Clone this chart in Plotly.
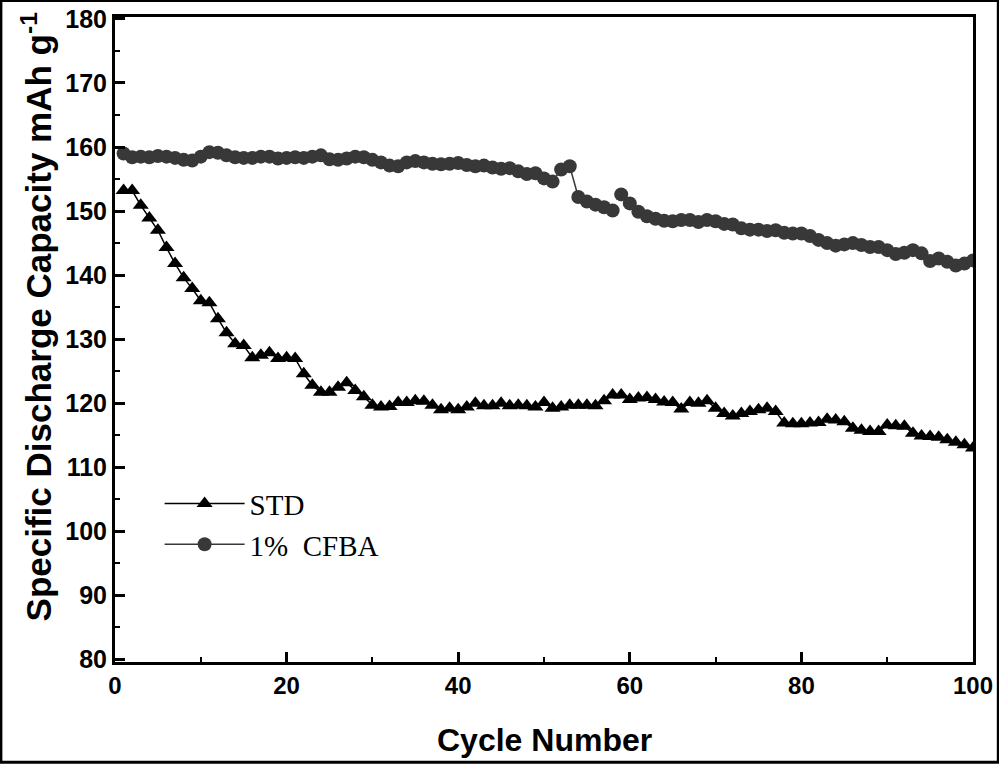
import plotly.graph_objects as go

cycles = list(range(1, 101))

std = [153.2, 153.2, 150.9, 148.9, 147.0, 144.3, 141.8, 139.6, 137.9, 136.0,
       135.7, 133.2, 131.0, 129.3, 129.0, 127.1, 127.5, 127.9, 127.0, 127.1,
       127.0, 124.6, 122.8, 121.7, 121.7, 122.5, 123.2, 122.0, 121.0, 119.7,
       119.4, 119.5, 120.1, 120.1, 120.4, 120.3, 119.7, 119.0, 119.2, 119.0,
       119.4, 120.0, 119.6, 119.6, 120.0, 119.6, 119.7, 119.6, 119.4, 120.1,
       119.2, 119.4, 119.7, 119.7, 119.7, 119.6, 120.4, 121.3, 121.3, 120.6,
       120.8, 120.9, 120.6, 120.2, 120.1, 119.1, 120.1, 120.0, 120.4, 119.2,
       118.4, 118.0, 118.4, 118.7, 119.0, 119.2, 118.7, 116.9, 116.8, 116.8,
       116.9, 117.0, 117.5, 117.4, 117.1, 116.1, 115.8, 115.6, 115.6, 116.6,
       116.5, 116.4, 115.3, 114.9, 114.8, 114.7, 114.3, 113.9, 113.5, 113.0]

cfba = [159.0, 158.4, 158.5, 158.4, 158.6, 158.5, 158.3, 158.0, 157.9, 158.5,
        159.2, 159.1, 158.7, 158.4, 158.3, 158.3, 158.5, 158.5, 158.2, 158.3,
        158.4, 158.3, 158.5, 158.7, 158.1, 158.0, 158.2, 158.5, 158.4, 158.0,
        157.6, 157.1, 157.0, 157.6, 157.8, 157.6, 157.4, 157.3, 157.4, 157.5,
        157.2, 157.0, 157.1, 156.8, 156.6, 156.7, 156.2, 155.8, 155.9, 155.1,
        154.6, 156.5, 157.0, 152.2, 151.5, 151.0, 150.6, 150.1, 152.6, 151.2,
        149.9, 149.2, 148.8, 148.5, 148.4, 148.6, 148.6, 148.3, 148.6, 148.4,
        148.0, 147.9, 147.3, 147.1, 147.1, 146.9, 147.0, 146.6, 146.5, 146.5,
        146.1, 145.5, 145.0, 144.6, 144.8, 145.0, 144.7, 144.4, 144.4, 143.9,
        143.3, 143.5, 143.9, 143.4, 142.2, 142.6, 142.1, 141.5, 141.8, 142.3]

cfba_break = 58  # line is interrupted after this cycle

x_ticks = [0, 20, 40, 60, 80, 100]
y_ticks = [80, 90, 100, 110, 120, 130, 140, 150, 160, 170, 180]

fig = go.Figure()

fig.add_trace(go.Scatter(
    x=cycles, y=std, mode="lines+markers", name="STD",
    line=dict(color="#000000", width=1.5),
    marker=dict(symbol="triangle-up", size=14, color="#000000"),
))
fig.add_trace(go.Scatter(
    x=cycles[:cfba_break], y=cfba[:cfba_break], mode="lines+markers",
    name="1%  CFBA", legendgroup="cfba",
    line=dict(color="#383838", width=1.5),
    marker=dict(symbol="circle", size=14, color="#383838"),
))
fig.add_trace(go.Scatter(
    x=cycles[cfba_break:], y=cfba[cfba_break:], mode="lines+markers",
    name="1%  CFBA", legendgroup="cfba", showlegend=False,
    line=dict(color="#383838", width=1.5),
    marker=dict(symbol="circle", size=14, color="#383838"),
))

axis_common = dict(
    showline=True, linecolor="#000000", linewidth=3, mirror=True,
    ticks="inside", tickcolor="#000000", tickwidth=2.5, ticklen=10,
    showgrid=False, zeroline=False, automargin=False,
)

fig.update_xaxes(
    range=[0, 100], tickvals=x_ticks,
    minor=dict(dtick=10, ticks="inside", ticklen=5, tickwidth=2, tickcolor="#000000"),
    tickfont=dict(family="Liberation Sans", size=24, color="#000000", weight="bold"),
    **axis_common,
)
fig.update_yaxes(
    range=[79.6, 180.3], tickvals=y_ticks,
    minor=dict(dtick=5, ticks="inside", ticklen=5, tickwidth=2, tickcolor="#000000"),
    tickfont=dict(family="Liberation Sans", size=25, color="#000000", weight="bold"),
    **axis_common,
)

fig.update_layout(
    width=999, height=764,
    margin=dict(l=115, r=26, t=17, b=102, autoexpand=False),
    paper_bgcolor="#ffffff", plot_bgcolor="#ffffff",
    showlegend=True,
    legend=dict(
        x=0.052, y=0.285, xanchor="left", yanchor="top",
        font=dict(family="Liberation Serif", size=29, color="#000000"),
        bgcolor="rgba(0,0,0,0)", itemwidth=80, tracegroupgap=0,
    ),
    annotations=[
        dict(text="Cycle Number", xref="paper", yref="paper",
             x=0.5, y=-0.121, xanchor="center", yanchor="middle", showarrow=False,
             font=dict(family="Liberation Sans", size=32, color="#000000", weight="bold")),
        dict(text="Specific Discharge Capacity mAh g<sup>-1</sup>", xref="paper", yref="paper",
             x=-0.0915, y=0.535, xanchor="center", yanchor="middle", showarrow=False,
             textangle=-90,
             font=dict(family="Liberation Sans", size=35, color="#000000", weight="bold")),
    ],
    shapes=[dict(type="rect", xref="paper", yref="paper",
                 x0=-0.133, x1=1.0295, y0=-0.1555, y1=1.0255,
                 line=dict(color="#000000", width=3), layer="above")],
)

fig.write_html(
    "out.html",
    config={"displayModeBar": False},
    post_script="document.body.style.margin='0';document.body.style.overflow='hidden';",
)
